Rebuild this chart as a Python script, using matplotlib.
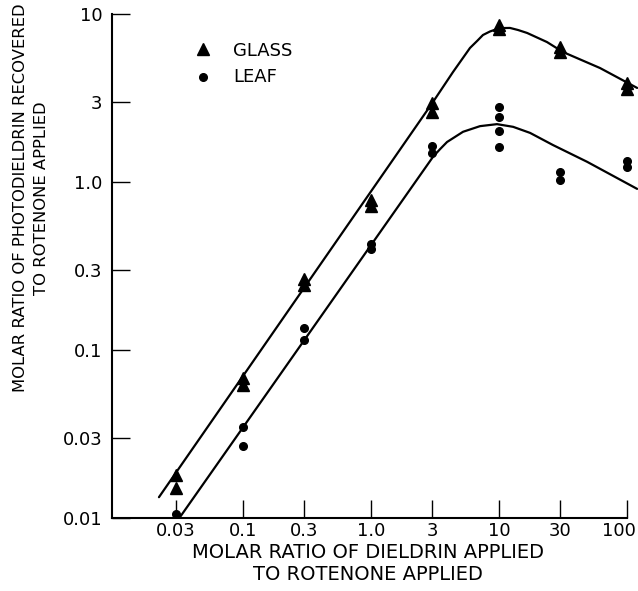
import matplotlib
matplotlib.use("Agg")
import matplotlib.pyplot as plt
from matplotlib.transforms import ScaledTranslation

# Measured data points
glass_x = [0.03, 0.03, 0.1, 0.1, 0.3, 0.3, 1.0, 1.0, 3, 3, 10, 10, 30, 30, 100, 100]
glass_y = [0.018, 0.015, 0.068, 0.062, 0.265, 0.244, 0.78, 0.72, 2.95, 2.6, 8.6, 8.1, 6.4, 5.9, 3.9, 3.6]

leaf_x = [0.03, 0.1, 0.1, 0.3, 0.3, 1.0, 1.0, 3, 3, 10, 10, 10, 10, 30, 30, 100, 100]
leaf_y = [0.0105, 0.035, 0.027, 0.135, 0.115, 0.43, 0.40, 1.64, 1.49, 2.79, 2.44, 2.01, 1.62, 1.15, 1.03, 1.33, 1.23]

# Hand-drawn fitted curves
glass_curve_x = [0.0221, 3.05, 4.38, 5.94, 6.75, 7.50, 8.51, 9.66, 10.8, 12.2, 14.1, 16.6, 23.7, 31.6, 61.5, 120]
glass_curve_y = [0.0133, 2.99, 4.52, 6.28, 6.91, 7.50, 7.87, 8.14, 8.25, 8.26, 8.03, 7.71, 6.81, 5.94, 4.77, 3.63]

leaf_curve_x = [0.0322, 3.05, 3.47, 3.93, 5.24, 7.11, 9.66, 12.9, 17.5, 26.4, 48.7, 120]
leaf_curve_y = [0.0101, 1.41, 1.57, 1.73, 1.99, 2.15, 2.21, 2.13, 1.96, 1.66, 1.32, 0.91]

x_ticks = [0.03, 0.1, 0.3, 1.0, 3, 10, 30, 100]
x_tick_labels = ["0.03", "0.1", "0.3", "1.0", "3", "10", "30", "100"]
y_ticks = [0.01, 0.03, 0.1, 0.3, 1.0, 3, 10]
y_tick_labels = ["0.01", "0.03", "0.1", "0.3", "1.0", "3", "10"]

plt.rcParams['font.family'] = ['DejaVu Sans']

fig = plt.figure(figsize=(6.38, 5.91), dpi=100)
ax = fig.add_axes([112/638, 1-518/591, (627-112)/638, (518-14)/591])
ax.set_xscale('log')
ax.set_yscale('log')
ax.set_xlim(0.0095, 100)
ax.set_ylim(0.01, 10)

ax.plot(glass_curve_x, glass_curve_y, color='black', lw=1.6, clip_on=False,
        solid_capstyle='round', solid_joinstyle='round')
ax.plot(leaf_curve_x, leaf_curve_y, color='black', lw=1.6, clip_on=False,
        solid_capstyle='round', solid_joinstyle='round')
ax.plot(glass_x, glass_y, linestyle='none', marker='^', ms=8, color='black', clip_on=False)
ax.plot(leaf_x, leaf_y, linestyle='none', marker='o', ms=5.5, color='black', clip_on=False)

ax.spines['top'].set_visible(False)
ax.spines['right'].set_visible(False)
for s in ['left', 'bottom']:
    ax.spines[s].set_linewidth(1.5)

ax.set_xticks(x_ticks)
ax.set_xticklabels(x_tick_labels)
ax.set_yticks(y_ticks)
ax.set_yticklabels(y_tick_labels)
ax.minorticks_off()
ax.tick_params(axis='both', direction='in', length=13, width=1.0, labelsize=13)
ax.tick_params(axis='x', pad=3)
ax.tick_params(axis='y', pad=7)

# shift the last x tick label slightly left so it fits, as in the reference
last = ax.get_xticklabels()[-1]
last.set_transform(last.get_transform() + ScaledTranslation(-8/100, 0, fig.dpi_scale_trans))

# Legend
ax.plot([0.049], [6.2], marker='^', ms=8, color='black', linestyle='none')
ax.plot([0.049], [4.2], marker='o', ms=5.5, color='black', linestyle='none')
fig.text(233/638, 1-51/591, "GLASS", fontsize=13, va='center', ha='left')
fig.text(233/638, 1-77/591, "LEAF", fontsize=13, va='center', ha='left')

fig.text(368/638, 1-553/591, "MOLAR RATIO OF DIELDRIN APPLIED", fontsize=14,
         ha='center', va='center')
fig.text(368/638, 1-575/591, "TO ROTENONE APPLIED", fontsize=14,
         ha='center', va='center')
fig.text(21/638, 1-198/591, "MOLAR RATIO OF PHOTODIELDRIN RECOVERED", fontsize=11.8,
         ha='center', va='center', rotation=90)
fig.text(42/638, 1-198/591, "TO ROTENONE APPLIED", fontsize=11.8,
         ha='center', va='center', rotation=90)

fig.savefig("out.png", dpi=100)
